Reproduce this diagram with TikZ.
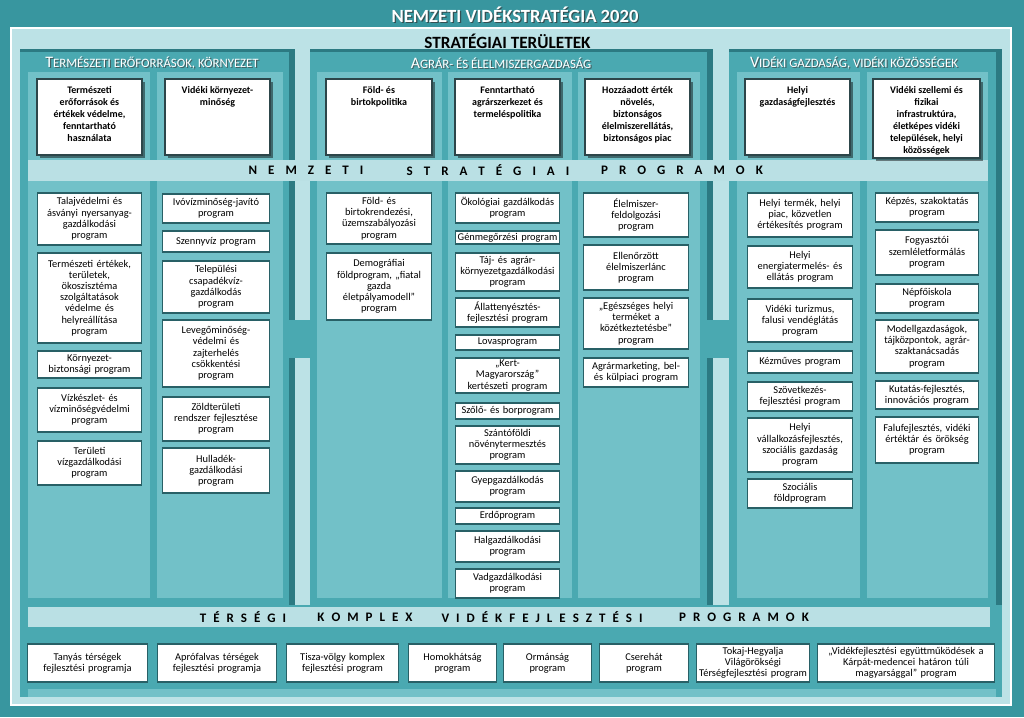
\documentclass[tikz,border=0pt]{standalone}
\usepackage{fontspec}
\setmainfont{Carlito}
\usetikzlibrary{shadows}
\hyphenpenalty=10000
\exhyphenpenalty=10000
\definecolor{outerc}{RGB}{56,150,159}
\definecolor{lightc}{RGB}{188,226,230}
\definecolor{grpc}{RGB}{74,169,177}
\definecolor{grpdark}{RGB}{44,122,130}
\definecolor{subc}{RGB}{114,193,200}
\definecolor{bandc}{RGB}{186,224,228}
\definecolor{boxedge}{RGB}{40,96,102}
\definecolor{topedge}{RGB}{45,70,74}
\tikzset{
  pbox/.style={draw=boxedge, fill=white, line width=1.6pt, align=center, inner xsep=0pt, inner ysep=0pt, text=black, font=\fontsize{10.4}{11.2}\selectfont},
  tbox/.style={draw=topedge, fill=white, line width=2pt, inner sep=0pt, text=black, font=\fontsize{10}{12}\selectfont\bfseries,
     drop shadow={shadow xshift=2.5pt, shadow yshift=-2.5pt, opacity=0.45, fill=black}},
  titletxt/.style={text=white, font=\fontsize{18.6}{18.6}\selectfont\bfseries, inner sep=0pt},
  shadowtxt/.style={text=black!75, opacity=0.7, inner sep=0pt},
  headtxt/.style={text=white, inner sep=0pt},
  bandtxt/.style={text=black, font=\fontsize{13}{13}\selectfont\bfseries, inner sep=0pt},
}
\newdimen\lsp
\def\spx#1{#1\spxnext}
\def\spxnext#1{\ifx#1\relax\else\hspace{\lsp}#1\expandafter\spxnext\fi}
\newcommand\ghd[2]{{\fontsize{16}{16}\selectfont #1}{\fontsize{12.8}{12.8}\selectfont #2}}
\newcommand\pbx[6]{%
  \pgfmathsetmacro\pbW{#4-#2-1}%
  \pgfmathsetmacro\pbH{#5-#3}%
  \pgfmathsetmacro\pbX{(#2+#4)/2}%
  \pgfmathsetmacro\pbY{(#3+#5)/2}%
  \node[pbox, text width=\pbW pt, minimum height=\pbH pt] (#1) at (\pbX,\pbY) {#6};}
\newcommand\tbx[6]{%
  \pgfmathsetmacro\pbW{#4-#2}%
  \pgfmathsetmacro\pbH{#5-#3}%
  \pgfmathsetmacro\pbX{(#2+#4)/2}%
  \pgfmathsetmacro\pbY{(#3+#5)/2}%
  \node[tbox] (#1) at (\pbX,\pbY) {\parbox[c][\pbH pt][t]{\pbW pt}{\centering\vspace*{7pt}#6\par}};}
\begin{document}
\begin{tikzpicture}[x=1pt,y=-1pt]
\useasboundingbox (0,0) rectangle (1024,717);
% backgrounds
\fill[outerc] (0,0) rectangle (1024,717);
\fill[lightc] (10,27) rectangle (1012,706);
\draw[white, line width=1.5pt] (11,28) rectangle (1011,705);
% group panels
\foreach \a/\b in {20/295, 310/713, 729/1002}{
  \fill[grpdark] (\a,49) rectangle (\b,605);
  \fill[grpc] (\a,52) rectangle (\b-6,605);
}
\fill[grpc] (20,605) rectangle (1002,697);
\fill[subc] (28,689) rectangle (996,697);
% sub-columns
\foreach \a/\b in {28/150, 157/283, 317/442, 448/572, 578/700, 737/860, 867/988}{
  \fill[subc] (\a,72) rectangle (\b,598);
}
% bridges
\fill[grpc] (283,320) rectangle (317,358);
\fill[grpc] (700,320) rectangle (737,358);
% bands
\fill[bandc] (28,160) rectangle (988,181);
\fill[bandc] (28,607) rectangle (990,627);
% titles
\node[titletxt, text=black!80, opacity=0.7] (title-s) at (516.2,16.2) {NEMZETI VIDÉKSTRATÉGIA 2020};
\node[titletxt] (title) at (515,15) {NEMZETI VIDÉKSTRATÉGIA 2020};
\node[inner sep=0pt, font=\fontsize{17.2}{17.2}\selectfont\bfseries] (strat) at (507.5,41.5) {STRATÉGIAI TERÜLETEK};
% group headers
\node[shadowtxt] (h1-s) at (153.2,64.2) {\ghd{T}{ERMÉSZETI ERŐFORRÁSOK, KÖRNYEZET}};
\node[headtxt] (h1) at (152,63) {\ghd{T}{ERMÉSZETI ERŐFORRÁSOK, KÖRNYEZET}};
\node[shadowtxt] (h2-s) at (502.2,64.2) {\ghd{A}{GRÁR- ÉS ÉLELMISZERGAZDASÁG}};
\node[headtxt] (h2) at (501,63) {\ghd{A}{GRÁR- ÉS ÉLELMISZERGAZDASÁG}};
\node[shadowtxt] (h3-s) at (855.2,64.2) {\ghd{V}{IDÉKI GAZDASÁG, VIDÉKI KÖZÖSSÉGEK}};
\node[headtxt] (h3) at (854,63) {\ghd{V}{IDÉKI GAZDASÁG, VIDÉKI KÖZÖSSÉGEK}};
% band texts
\lsp=11pt
\node[bandtxt] (nsp1) at (306,170.5) {\spx NEMZETI\relax};
\node[bandtxt] (nsp2) at (488,170.5) {\spx STRATÉGIAI\relax};
\node[bandtxt] (nsp3) at (682,170.5) {\spx PROGRAMOK\relax};
\lsp=7pt
\node[bandtxt] (tk1) at (243,617) {\spx TÉRSÉGI\relax};
\node[bandtxt] (tk2) at (365,617) {\spx KOMPLEX\relax};
\node[bandtxt] (tk3) at (542,617) {\spx VIDÉKFEJLESZTÉSI\relax};
\node[bandtxt] (tk4) at (744,617) {\spx PROGRAMOK\relax};
% top boxes
\tbx{t1}{37}{79}{142}{155}{Természeti\\erőforrások és\\értékek védelme,\\fenntartható\\használata}
\tbx{t2}{165}{79}{270}{155}{Vidéki környezet-\\minőség}
\tbx{t3}{326}{79}{432}{155}{Föld- és\\birtokpolitika}
\tbx{t4}{455}{79}{560}{155}{Fenntartható\\agrárszerkezet és\\termeléspolitika}
\tbx{t5}{585}{79}{690}{155}{Hozzáadott érték\\növelés,\\biztonságos\\élelmiszerellátás,\\biztonságos piac}
\tbx{t6}{745}{79}{850}{155}{Helyi\\gazdaságfejlesztés}
\tbx{t7}{873}{79}{980}{158}{Vidéki szellemi és\\fizikai\\infrastruktúra,\\életképes vidéki\\települések, helyi\\közösségek}
% group 1 programs
\pbx{p1}{37}{193}{142}{245}{Talajvédelmi és\\ásványi nyersanyag-\\gazdálkodási\\program}
\pbx{p2}{37}{253}{142}{343}{Természeti értékek,\\területek,\\ökoszisztéma\\szolgáltatások\\védelme és\\helyreállítása\\program}
\pbx{p3}{37}{351}{142}{378}{Környezet-\\biztonsági program}
\pbx{p4}{37}{388}{142}{432}{Vízkészlet- és\\vízminőségvédelmi\\program}
\pbx{p5}{37}{441}{142}{485}{Területi\\vízgazdálkodási\\program}
\pbx{p6}{162}{194}{270}{223}{Ivóvízminőség-javító\\program}
\pbx{p7}{162}{231}{270}{252}{Szennyvíz program}
\pbx{p8}{162}{261}{270}{313}{Települési\\csapadékvíz-\\gazdálkodás\\program}
\pbx{p9}{162}{320}{270}{387}{Levegőminőség-\\védelmi és\\zajterhelés\\csökkentési\\program}
\pbx{p10}{162}{397}{270}{441}{Zöldterületi\\rendszer fejlesztése\\program}
\pbx{p11}{162}{448}{270}{493}{Hulladék-\\gazdálkodási\\program}
% group 2 programs
\pbx{q1}{326}{193}{432}{244}{Föld- és\\birtokrendezési,\\üzemszabályozási\\program}
\pbx{q2}{326}{253}{432}{320}{Demográfiai\\földprogram, „fiatal\\gazda\\életpályamodell”\\program}
\pbx{q3}{455}{193}{560}{223}{Ökológiai gazdálkodás\\program}
\pbx{q4}{455}{231}{560}{244}{Génmegőrzési program}
\pbx{q5}{455}{253}{560}{291}{Táj- és agrár-\\környezetgazdálkodási\\program}
\pbx{q6}{455}{298}{560}{327}{Állattenyésztés-\\fejlesztési program}
\pbx{q7}{455}{335}{560}{350}{Lovasprogram}
\pbx{q8}{455}{358}{560}{393}{„Kert-\\Magyarország”\\kertészeti program}
\pbx{q9}{455}{403}{560}{419}{Szőlő- és borprogram}
\pbx{q10}{455}{426}{560}{464}{Szántóföldi\\növénytermesztés\\program}
\pbx{q11}{455}{471}{560}{502}{Gyepgazdálkodás\\program}
\pbx{q12}{455}{508}{560}{524}{Erdőprogram}
\pbx{q13}{455}{531}{560}{562}{Halgazdálkodási\\program}
\pbx{q14}{455}{569}{560}{598}{Vadgazdálkodási\\program}
\pbx{q15}{583}{193}{689}{237}{Élelmiszer-\\feldolgozási\\program}
\pbx{q16}{583}{245}{689}{290}{Ellenőrzött\\élelmiszerlánc\\program}
\pbx{q17}{583}{298}{689}{349}{„Egészséges helyi\\terméket a\\közétkeztetésbe”\\program}
\pbx{q18}{583}{358}{689}{387}{Agrármarketing, bel-\\és külpiaci program}
% group 3 programs
\pbx{r1}{747}{193}{853}{237}{Helyi termék, helyi\\piac, közvetlen\\értékesítés program}
\pbx{r2}{747}{246}{853}{288}{Helyi\\energiatermelés- és\\ellátás program}
\pbx{r3}{747}{299}{853}{342}{Vidéki turizmus,\\falusi vendéglátás\\program}
\pbx{r4}{747}{351}{853}{373}{Kézműves program}
\pbx{r5}{747}{382}{853}{411}{Szövetkezés-\\fejlesztési program}
\pbx{r6}{747}{418}{853}{472}{Helyi\\vállalkozásfejlesztés,\\szociális gazdaság\\program}
\pbx{r7}{747}{479}{853}{508}{Szociális\\földprogram}
\pbx{r8}{875}{193}{979}{222}{Képzés, szakoktatás\\program}
\pbx{r9}{875}{230}{979}{275}{Fogyasztói\\szemléletformálás\\program}
\pbx{r10}{875}{284}{979}{313}{Népfőiskola\\program}
\pbx{r11}{875}{320}{979}{373}{Modellgazdaságok,\\tájközpontok, agrár-\\szaktanácsadás\\program}
\pbx{r12}{875}{381}{979}{409}{Kutatás-fejlesztés,\\innovációs program}
\pbx{r13}{875}{417}{979}{463}{Falufejlesztés, vidéki\\értéktár és örökség\\program}
% regional programs
\pbx{b1}{27}{644}{148}{682}{Tanyás térségek\\fejlesztési programja}
\pbx{b2}{157}{644}{277}{682}{Aprófalvas térségek\\fejlesztési programja}
\pbx{b3}{286}{644}{399}{682}{Tisza-völgy komplex\\fejlesztési program}
\pbx{b4}{408}{644}{497}{682}{Homokhátság\\program}
\pbx{b5}{503}{644}{592}{682}{Ormánság\\program}
\pbx{b6}{599}{644}{689}{682}{Cserehát\\program}
\pbx{b7}{696}{644}{810}{682}{Tokaj-Hegyalja\\Világörökségi\\Térségfejlesztési program}
\pbx{b8}{817}{644}{995}{682}{„Vidékfejlesztési együttműködések a\\Kárpát-medencei határon túli\\magyarsággal” program}
\end{tikzpicture}
\end{document}
